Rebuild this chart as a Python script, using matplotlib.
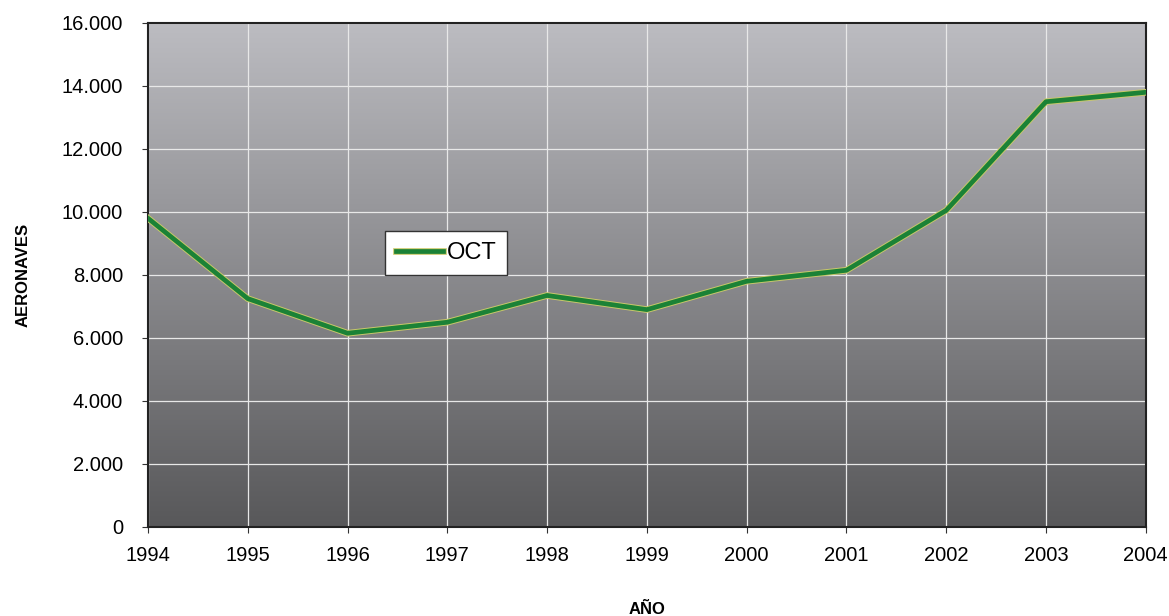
import numpy as np
import matplotlib
matplotlib.use("Agg")
import matplotlib.pyplot as plt
import matplotlib.patheffects as pe
from matplotlib.ticker import FuncFormatter

plt.rcParams['font.family'] = ['Liberation Sans', 'DejaVu Sans']

# data
years = [1994, 1995, 1996, 1997, 1998, 1999, 2000, 2001, 2002, 2003, 2004]
oct_values = [9800, 7250, 6150, 6500, 7350, 6900, 7800, 8150, 10050, 13500, 13800]
series_name = "OCT"

fig = plt.figure(figsize=(11.69, 6.16), dpi=100)
ax = fig.add_axes([0.1266, 0.1445, 0.8535, 0.8182])

# gray gradient background, light at top, dark at bottom
grad = np.linspace(0, 1, 256).reshape(-1, 1)
cmap = matplotlib.colors.LinearSegmentedColormap.from_list(
    "bg", ["#58585a", "#bcbcc1"])
ax.imshow(grad, aspect="auto", cmap=cmap, origin="lower",
          extent=[1994, 2004, 0, 16000], zorder=0)

ax.set_xlim(1994, 2004)
ax.set_ylim(0, 16000)
ax.set_xticks(years)
ax.set_yticks(np.arange(0, 16001, 2000))
ax.yaxis.set_major_formatter(FuncFormatter(lambda v, p: f"{int(v):,}".replace(",", ".")))
ax.grid(True, color="#e8e8e8", linewidth=0.9, zorder=1)

ax.plot(years, oct_values, color="#1b8236", linewidth=3.4, label=series_name,
        zorder=3, path_effects=[pe.Stroke(linewidth=4.8, foreground="#c9c86a"),
                                pe.Normal()])

for s in ax.spines.values():
    s.set_color("#222222")
    s.set_linewidth(1.5)

ax.tick_params(axis="both", labelsize=14.5, length=4, color="#333333")
ax.tick_params(axis="x", pad=10)
ax.tick_params(axis="y", pad=14)

ax.set_ylabel("AERONAVES", fontsize=12, fontweight="bold", labelpad=22)
ax.set_xlabel("AÑO", fontsize=12, fontweight="bold", labelpad=26)

leg = ax.legend(loc="upper left", bbox_to_anchor=(0.226, 0.61), fontsize=17,
                frameon=True, fancybox=False, edgecolor="#333333",
                handlelength=2.0, handletextpad=0.15, borderpad=0.45)
leg.get_frame().set_linewidth(1.0)
leg.get_frame().set_facecolor("white")
leg.get_frame().set_alpha(1.0)

fig.savefig("out.png", dpi=100)
